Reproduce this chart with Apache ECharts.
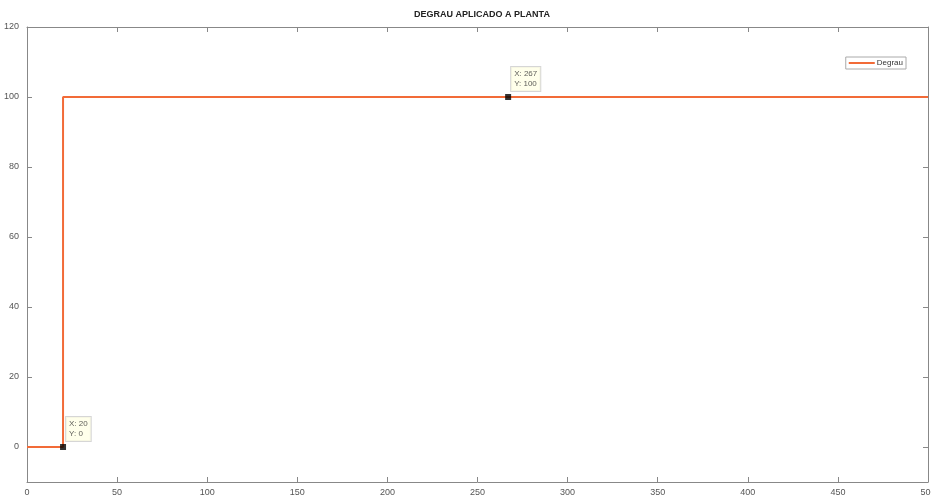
<!DOCTYPE html>
<html><head><meta charset="utf-8">
<script src="https://cdn.jsdelivr.net/npm/echarts@6/dist/echarts.min.js"></script>
<style>html,body{margin:0;padding:0;background:#fff}#c{width:931px;height:498px}</style>
</head><body><div id="c"></div>
<script>
const stepX = [0, 20, 20, 500];
const stepY = [0, 0, 100, 100];
const tipX = [20, 267];
const tipY = [0, 100];
const yTicks = [0, 20, 40, 60, 80, 100, 120];
const xTicks = [0, 50, 100, 150, 200, 250, 300, 350, 400, 450, 500];

const chart = echarts.init(document.getElementById('c'));
const axisCol = '#888';
const txt = '#555';
chart.setOption({
  animation: false,
  title: { text: 'DEGRAU APLICADO A PLANTA', left: 477, top: 5, textAlign: 'center',
    textStyle: { fontSize: 9, fontWeight: 'bold', color: '#222', fontFamily: 'Liberation Sans' } },
  legend: { right: 25, top: 57, orient: 'vertical', itemWidth: 26, itemHeight: 2, itemGap: 2,
    borderColor: '#aaa', borderWidth: 1, padding: [2, 3, 2, 3],
    textStyle: { fontSize: 8, color: '#333', fontFamily: 'Liberation Sans', padding: [0,0,0,-3] },
    data: [{ name: 'Degrau', icon: 'rect' }] },
  grid: { left: 27, right: 3, top: 27, bottom: 16, containLabel: false, outerBoundsMode: 'none' },
  xAxis: [{ type: 'value', min: 0, max: 500, interval: 50,
    axisLine: { show: true, onZero: false, lineStyle: { color: axisCol } },
    axisTick: { show: true, inside: true, length: 5, lineStyle: { color: axisCol } },
    axisLabel: { fontSize: 9, color: txt, margin: 6, fontFamily: 'Liberation Sans' },
    splitLine: { show: false } },
    { type: 'value', position: 'top', min: 0, max: 500, interval: 50,
    axisLine: { show: true, onZero: false, lineStyle: { color: axisCol } },
    axisTick: { show: true, inside: true, length: 5, lineStyle: { color: axisCol } },
    axisLabel: { show: false }, splitLine: { show: false } }],
  yAxis: [{ type: 'value', min: -10, max: 120,
    axisLine: { show: true, onZero: false, lineStyle: { color: axisCol } },
    axisTick: { show: true, inside: true, length: 5, customValues: yTicks, lineStyle: { color: axisCol } },
    axisLabel: { fontSize: 9, color: txt, margin: 8, customValues: yTicks, fontFamily: 'Liberation Sans' },
    splitLine: { show: false } },
    { type: 'value', position: 'right', min: -10, max: 120,
    axisLine: { show: true, onZero: false, lineStyle: { color: axisCol } },
    axisTick: { show: true, inside: true, length: 5, customValues: yTicks, lineStyle: { color: axisCol } },
    axisLabel: { show: false }, splitLine: { show: false } }],
  series: [
    { name: 'Degrau', type: 'line', xAxisIndex: 0, yAxisIndex: 0, showSymbol: false,
      color: '#F26B38', lineStyle: { width: 2, color: '#F26B38' },
      data: stepX.map((x, i) => [x, stepY[i]]) },
    { name: 'tips', type: 'scatter', symbol: 'rect', symbolSize: 6,
      itemStyle: { color: '#000' }, z: 5,
      label: { show: true, position: [6, -27], formatter: p => 'X: ' + p.value[0] + '\nY: ' + p.value[1],
        backgroundColor: '#FFFFE6', borderColor: '#ccc', borderWidth: 1, padding: [2, 3],
        fontSize: 8, lineHeight: 10, color: '#333', fontFamily: 'Liberation Sans' },
      data: tipX.map((x, i) => [x, tipY[i]]) }
  ]
});
</script></body></html>
